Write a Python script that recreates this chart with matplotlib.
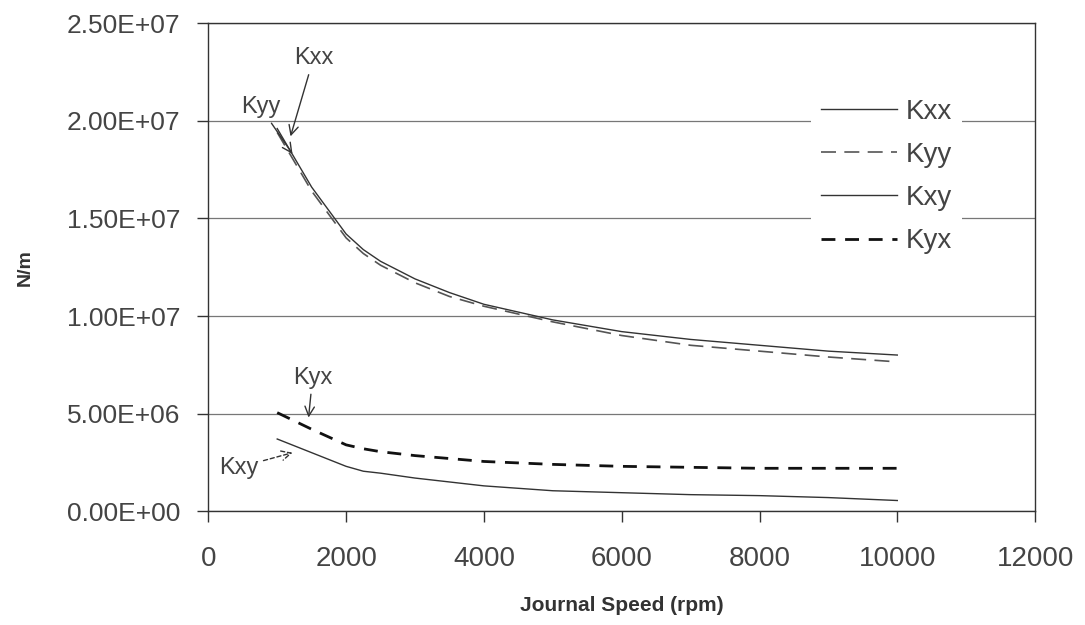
import matplotlib
matplotlib.use("Agg")
import matplotlib.pyplot as plt

plt.rcParams["font.family"] = ["Liberation Sans", "DejaVu Sans"]

# Journal speed (rpm) and stiffness coefficients (N/m)
speed = [1000, 1500, 2000, 2250, 2500, 3000, 3500, 4000, 5000, 6000, 7000, 8000, 9000, 10000]
kxx = [19.6e6, 16.6e6, 14.2e6, 13.4e6, 12.8e6, 11.9e6, 11.2e6, 10.6e6, 9.8e6, 9.2e6, 8.8e6, 8.5e6, 8.2e6, 8.0e6]
kyy = [19.4e6, 16.4e6, 14.0e6, 13.2e6, 12.6e6, 11.7e6, 11.0e6, 10.5e6, 9.7e6, 9.0e6, 8.5e6, 8.2e6, 7.9e6, 7.65e6]
kxy = [3.7e6, 3.0e6, 2.3e6, 2.05e6, 1.95e6, 1.7e6, 1.5e6, 1.3e6, 1.05e6, 0.95e6, 0.85e6, 0.8e6, 0.7e6, 0.55e6]
kyx = [5.05e6, 4.2e6, 3.4e6, 3.2e6, 3.05e6, 2.85e6, 2.7e6, 2.55e6, 2.4e6, 2.3e6, 2.25e6, 2.2e6, 2.2e6, 2.2e6]

fig = plt.figure(figsize=(10.85, 6.25), dpi=100)
ax = fig.add_axes([0.192, 0.182, 0.762, 0.781])

ax.plot(speed, kxx, color="#333333", lw=1.0, label="Kxx")
ax.plot(speed, kyy, color="#555555", lw=1.2, ls=(0, (9, 5)), label="Kyy")
ax.plot(speed, kxy, color="#333333", lw=1.0, label="Kxy")
ax.plot(speed, kyx, color="#111111", lw=2.0, ls=(0, (5, 3.5)), label="Kyx")

ax.set_xlim(0, 12000)
ax.set_ylim(0, 2.5e7)
ax.set_xticks(range(0, 12001, 2000))
ax.set_yticks([i * 5e6 for i in range(6)])
ax.set_yticklabels(["0.00E+00", "5.00E+06", "1.00E+07", "1.50E+07", "2.00E+07", "2.50E+07"])
ax.grid(axis="y", color="#777777", lw=0.9)
ax.set_axisbelow(True)
ax.tick_params(axis="both", colors="#333333", labelcolor="#444444",
               direction="out", length=8, width=1)
ax.tick_params(axis="y", labelsize=19, pad=12)
ax.tick_params(axis="x", labelsize=20, pad=17)
for side in ["left", "right", "top", "bottom"]:
    ax.spines[side].set_color("#333333")
    ax.spines[side].set_linewidth(1.0)

ax.set_xlabel("Journal Speed (rpm)", fontsize=15, fontweight="bold", color="#333333", labelpad=17)
ax.set_ylabel("N/m", fontsize=14, fontweight="bold", color="#333333", labelpad=24)

leg = ax.legend(loc="upper right", bbox_to_anchor=(0.911, 0.865), frameon=True, fontsize=20,
                handlelength=2.75, handletextpad=0.3, labelspacing=0.62, borderpad=0.35,
                borderaxespad=0)
leg.get_frame().set_edgecolor("none")
leg.get_frame().set_facecolor("white")
leg.get_frame().set_alpha(1)
for t in leg.get_texts():
    t.set_color("#444444")

arrow = dict(arrowstyle="->", color="#333333", lw=1.0, shrinkA=2, shrinkB=0)
ax.annotate("Kxx", xy=(1193, 19.2e6), xytext=(1527, 23.2e6), fontsize=17, color="#444444",
            ha="center", va="center", arrowprops=arrow)
ax.annotate("Kyy", xy=(1222, 18.3e6), xytext=(756, 20.7e6), fontsize=17, color="#444444",
            ha="center", va="center", arrowprops=arrow)
ax.annotate("Kyx", xy=(1455, 4.8e6), xytext=(1513, 6.84e6), fontsize=17, color="#444444",
            ha="center", va="center", arrowprops=arrow)
ax.annotate("Kxy", xy=(1222, 3.0e6), xytext=(436, 2.24e6), fontsize=17, color="#444444",
            ha="center", va="center", arrowprops=dict(arrow, ls=(0, (3, 2))))

fig.savefig("out.png", dpi=100)
